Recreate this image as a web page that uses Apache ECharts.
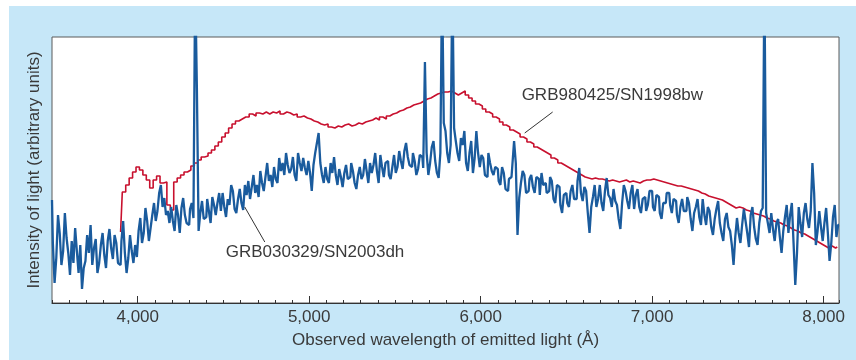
<!DOCTYPE html>
<html>
<head>
<meta charset="utf-8">
<script src="https://cdn.jsdelivr.net/npm/echarts@6/dist/echarts.min.js"></script>
<style>
html,body{margin:0;padding:0;background:#fff;}
#c{width:856px;height:360px;}
</style>
</head>
<body>
<div id="c"></div>
<script>
// Wavelength sampling (Å)
const blueStart = 3500, blueStep = 10;
const redStart = 3900, redStep = 20;
const xTickLabels = [4000, 5000, 6000, 7000, 8000];

// GRB030329/SN2003dh (blue), arbitrary intensity units, 3500–8090 Å (10 values per 100 Å)
const blueValues = [
103,60,20,45,88,70,38,52,90,65,
50,28,62,40,75,52,30,58,14,35,
42,68,50,78,38,55,64,30,40,58,
70,48,35,62,74,55,44,68,60,40,
38,62,82,50,30,45,68,52,40,58,
46,72,85,60,70,95,82,62,75,88,
100,82,92,110,118,96,105,88,92,80,
96,82,72,98,88,70,95,105,88,80,
78,94,100,85,323,215,72,90,102,84,
86,104,92,80,106,98,88,100,110,92,
110,96,86,104,98,118,112,94,90,104,
114,100,93,118,108,122,104,116,128,110,
118,106,132,120,112,126,140,122,128,116,
136,124,120,145,132,140,128,150,138,130,
134,146,128,122,150,140,132,145,135,128,
142,130,112,138,150,160,170,140,128,120,
136,124,120,140,130,146,128,118,134,126,
116,130,138,124,126,140,132,120,114,128,
136,124,128,144,132,120,140,130,138,150,
132,120,148,136,126,140,142,128,124,136,
148,130,136,152,142,134,152,160,146,138,
136,150,142,128,134,148,146,135,241,150,
128,140,156,162,142,130,125,150,323,180,
172,150,140,158,323,175,162,150,142,165,
158,172,140,132,150,162,130,145,172,150,
136,148,145,128,126,150,140,132,128,136,
134,122,118,136,130,114,112,124,126,138,
162,140,68,105,120,132,128,110,112,124,
128,116,110,126,124,108,130,118,120,110,
112,126,122,104,100,118,116,98,90,108,
110,100,96,112,118,104,104,122,135,110,
102,116,112,90,70,96,106,118,96,104,
118,100,92,112,125,108,105,96,114,102,
98,84,74,100,118,112,102,94,110,118,
94,108,114,96,90,104,106,92,98,112,
112,96,92,108,106,90,84,100,100,110,
110,98,90,104,102,88,80,96,104,92,
92,106,100,84,72,90,96,104,86,78,
104,88,78,96,92,76,68,84,94,102,
80,70,62,84,90,76,72,58,38,66,
85,70,60,78,94,82,70,56,88,96,
76,64,58,80,92,95,323,90,80,70,
90,74,62,80,84,66,50,72,86,98,
70,88,100,60,18,50,96,80,66,90,
100,84,75,92,140,110,58,72,92,76,
62,80,95,70,42,60,86,98,66,78
];

// GRB980425/SN1998bw (red), arbitrary intensity units, 3900–8080 Å
const redValues = [
71,111,118,125,131, 136,133,128,123,115, 123,127,120,121,98, 93,121,125,128,131,
133,137,140,143,146, 147,150,153,157,161, 166,170,175,179,182, 184,186,186,189,187,
190,189,191,189,191, 190,192,189,191,190, 188,189,186,187,185, 184,182,181,179,178,
179,176,175,177,176, 178,179,177,178,180, 179,181,182,183,185, 183,186,184,187,189,
190,192,193,195,196, 198,199,200,202,204, 205,207,209,210,211, 211,212,210,208,210,
212,208,205,202,199, 197,194,191,189,186, 184,181,178,176,173, 171,169,166,164,161,
159,156,154,152,150, 148,145,143,140,138, 136,134,132,130,128, 126,125,124,125,124,
124,123,122,123,122, 121,122,123,121,122, 121,120,122,123,123, 124,123,122,121,120,
119,118,117,117,116, 115,114,113,112,110, 109,107,106,105,104, 103,101,99,97,95,
96,95,93,92,90, 89,88,87,85,84, 82,81,80,78,77, 75,73,72,70,69,
67,65,63,61,59, 57,55,57,55,56
];

const blueData = blueValues.map((v, i) => [blueStart + i * blueStep, v]);
const redData = redValues.map((v, i) => [redStart + i * redStep, v]);

const chart = echarts.init(document.getElementById('c'), null, {renderer: 'canvas'});
const FONT = 'Liberation Sans, Arial, Helvetica, sans-serif';
const TXT = '#3a3a3a';
const panel = {
  type: 'rect', z: -10, silent: true,
  shape: {x: 9, y: 6, width: 847, height: 354},
  style: {fill: '#c6e7f8'}
};

chart.setOption({
  animation: false,
  backgroundColor: 'transparent',
  graphic: [panel],
  grid: {
    left: 52, top: 37, width: 787, height: 266,
    show: true, backgroundColor: '#fff', borderColor: '#5a5a5a', borderWidth: 1
  },
  xAxis: [{
    type: 'value', min: 3500, max: 8090, interval: 100,
    position: 'bottom',
    axisLine: {show: true, lineStyle: {color: '#333', width: 1}},
    axisTick: {show: true, inside: true, length: 3, lineStyle: {color: '#333'}},
    axisLabel: {
      show: true, margin: 6, color: TXT, fontFamily: FONT, fontSize: 17,
      formatter: v => (xTickLabels.indexOf(v) >= 0 ? v.toLocaleString('en-US') : '')
    },
    splitLine: {show: false},
    name: 'Observed wavelength of emitted light (Å)',
    nameLocation: 'middle', nameGap: 29,
    nameTextStyle: {color: TXT, fontFamily: FONT, fontSize: 17}
  }, {
    type: 'value', min: 3500, max: 8090, gridIndex: 0, position: 'bottom',
    axisLine: {show: false},
    axisTick: {show: true, inside: true, length: 7, customValues: xTickLabels, lineStyle: {color: '#333'}},
    axisLabel: {show: false, customValues: xTickLabels},
    splitLine: {show: false}
  }],
  yAxis: {
    type: 'value', min: 0, max: 266,
    axisLine: {show: false}, axisTick: {show: false}, axisLabel: {show: false},
    splitLine: {show: false},
    name: 'Intensity of light (arbitrary units)',
    nameLocation: 'middle', nameGap: 9,
    nameTextStyle: {color: TXT, fontFamily: FONT, fontSize: 17}
  },
  series: [{
    type: 'line', name: 'GRB980425/SN1998bw', data: redData, step: 'middle',
    showSymbol: false, clip: true, z: 2,
    lineStyle: {color: '#c8102e', width: 1.6}
  }, {
    type: 'line', name: 'GRB030329/SN2003dh', data: blueData, step: 'middle',
    showSymbol: false, clip: true, z: 4,
    lineStyle: {color: '#1a5b9d', width: 2.3}
  }]
});

// Annotations anchored in data coordinates
function px(w, v) { return chart.convertToPixel({xAxisIndex: 0, yAxisIndex: 0}, [w, v]); }
const a1 = px(6420, 191), a2 = px(6257, 170), t1 = px(6239, 208);
const b1 = px(4624, 96), b2 = px(4741, 61), t2 = px(4513, 51);
chart.setOption({
  graphic: [panel, {
    type: 'line', z: 10, shape: {x1: a1[0], y1: a1[1], x2: a2[0], y2: a2[1]},
    style: {stroke: '#333', lineWidth: 1}
  }, {
    type: 'text', z: 10, x: t1[0], y: t1[1],
    style: {text: 'GRB980425/SN1998bw', fill: TXT, font: '17px ' + FONT, textVerticalAlign: 'middle', textAlign: 'left'}
  }, {
    type: 'line', z: 10, shape: {x1: b1[0], y1: b1[1], x2: b2[0], y2: b2[1]},
    style: {stroke: '#333', lineWidth: 1}
  }, {
    type: 'text', z: 10, x: t2[0], y: t2[1],
    style: {text: 'GRB030329/SN2003dh', fill: TXT, font: '17px ' + FONT, textVerticalAlign: 'middle', textAlign: 'left'}
  }]
});
</script>
</body>
</html>
